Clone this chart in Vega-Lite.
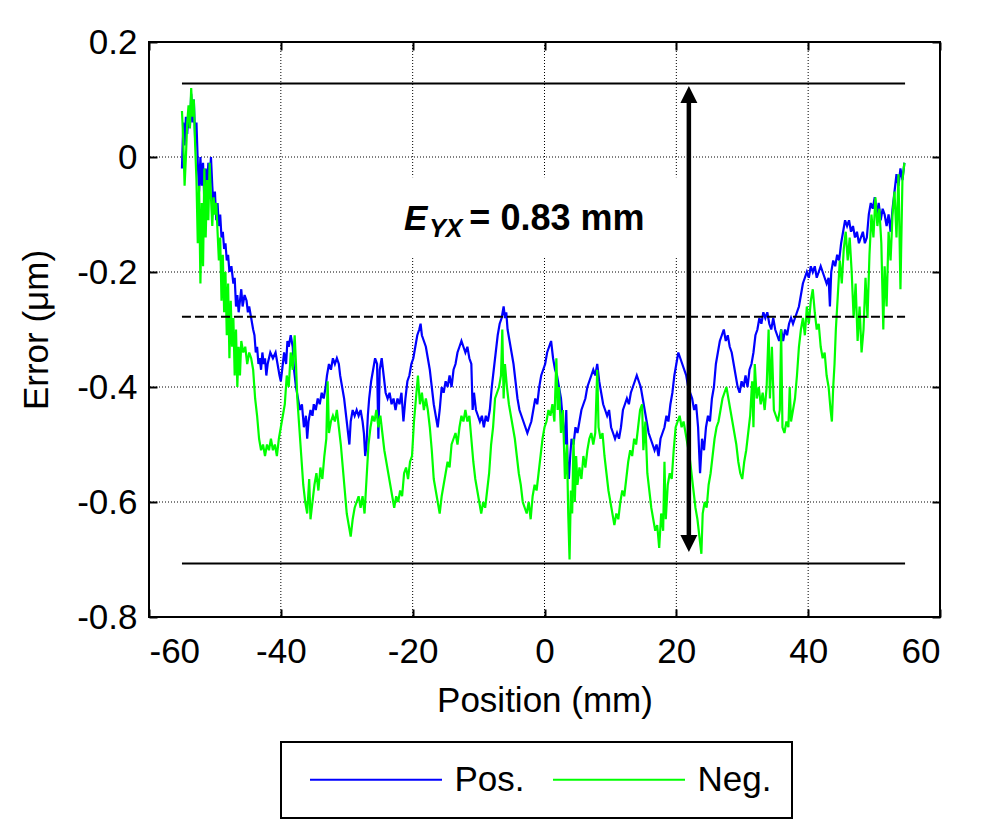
{
"$schema":"https://vega.github.io/schema/vega-lite/v6.json",
"width":791,"height":575,
"autosize":{"type":"none"},
"padding":{"left":149,"top":42,"right":50,"bottom":208},
"background":"white",
"config":{
 "font":"Liberation Sans",
 "view":{"stroke":"black","strokeWidth":2},
 "axis":{"labelFont":"Liberation Sans","labelFontSize":35,"labelColor":"black","titleFont":"Liberation Sans","titleFontSize":35,"titleFontWeight":"normal","titleColor":"black","grid":false,"tickColor":"black","tickWidth":2,"tickSize":-8,"domain":false},
 "legend":{"labelFont":"Liberation Sans","labelFontSize":35,"labelColor":"black","symbolType":"M-5,0H5","symbolSize":697,"symbolStrokeWidth":2,"direction":"horizontal","strokeColor":"black","strokeWidth":2,"padding":20,"columnPadding":19,"symbolOffset":57.5,"labelOffset":61}
},
"datasets":{
 "curves":[
{"p":-55.0,"e":-0.02,"s":"Pos."},{"p":-54.8,"e":0.06,"s":"Pos."},{"p":-54.6,"e":0.02,"s":"Pos."},{"p":-54.4,"e":0.07,"s":"Pos."},{"p":-54.2,"e":0.04,"s":"Pos."},{"p":-54.0,"e":0.08,"s":"Pos."},{"p":-53.8,"e":0.05,"s":"Pos."},{"p":-53.6,"e":0.11,"s":"Pos."},{"p":-53.4,"e":0.06,"s":"Pos."},{"p":-53.2,"e":0.10,"s":"Pos."},{"p":-53.0,"e":0.03,"s":"Pos."},{"p":-52.8,"e":0.06,"s":"Pos."},{"p":-52.6,"e":-0.01,"s":"Pos."},{"p":-52.4,"e":-0.06,"s":"Pos."},{"p":-52.2,"e":0.00,"s":"Pos."},{"p":-52.0,"e":-0.05,"s":"Pos."},{"p":-51.8,"e":-0.01,"s":"Pos."},{"p":-51.6,"e":-0.08,"s":"Pos."},{"p":-51.4,"e":-0.02,"s":"Pos."},{"p":-51.2,"e":-0.06,"s":"Pos."},{"p":-51.0,"e":-0.01,"s":"Pos."},{"p":-50.8,"e":-0.04,"s":"Pos."},{"p":-50.6,"e":0.00,"s":"Pos."},{"p":-50.4,"e":-0.05,"s":"Pos."},{"p":-50.2,"e":-0.09,"s":"Pos."},{"p":-50.0,"e":-0.06,"s":"Pos."},{"p":-49.8,"e":-0.11,"s":"Pos."},{"p":-49.6,"e":-0.08,"s":"Pos."},{"p":-49.4,"e":-0.12,"s":"Pos."},{"p":-49.2,"e":-0.10,"s":"Pos."},{"p":-49.0,"e":-0.14,"s":"Pos."},{"p":-48.8,"e":-0.13,"s":"Pos."},{"p":-48.6,"e":-0.16,"s":"Pos."},{"p":-48.4,"e":-0.15,"s":"Pos."},{"p":-48.2,"e":-0.18,"s":"Pos."},{"p":-48.0,"e":-0.17,"s":"Pos."},{"p":-47.8,"e":-0.20,"s":"Pos."},{"p":-47.5,"e":-0.19,"s":"Pos."},{"p":-47.2,"e":-0.22,"s":"Pos."},{"p":-47.0,"e":-0.21,"s":"Pos."},{"p":-46.8,"e":-0.26,"s":"Pos."},{"p":-46.6,"e":-0.24,"s":"Pos."},{"p":-46.4,"e":-0.27,"s":"Pos."},{"p":-46.2,"e":-0.25,"s":"Pos."},{"p":-46.0,"e":-0.23,"s":"Pos."},{"p":-45.8,"e":-0.26,"s":"Pos."},{"p":-45.5,"e":-0.24,"s":"Pos."},{"p":-45.2,"e":-0.25,"s":"Pos."},{"p":-45.0,"e":-0.27,"s":"Pos."},{"p":-44.8,"e":-0.26,"s":"Pos."},{"p":-44.5,"e":-0.28,"s":"Pos."},{"p":-44.2,"e":-0.30,"s":"Pos."},{"p":-44.0,"e":-0.31,"s":"Pos."},{"p":-43.8,"e":-0.34,"s":"Pos."},{"p":-43.6,"e":-0.33,"s":"Pos."},{"p":-43.4,"e":-0.36,"s":"Pos."},{"p":-43.2,"e":-0.35,"s":"Pos."},{"p":-43.0,"e":-0.37,"s":"Pos."},{"p":-42.8,"e":-0.34,"s":"Pos."},{"p":-42.6,"e":-0.36,"s":"Pos."},{"p":-42.4,"e":-0.35,"s":"Pos."},{"p":-42.2,"e":-0.38,"s":"Pos."},{"p":-42.0,"e":-0.36,"s":"Pos."},{"p":-41.6,"e":-0.34,"s":"Pos."},{"p":-41.2,"e":-0.35,"s":"Pos."},{"p":-40.8,"e":-0.34,"s":"Pos."},{"p":-40.5,"e":-0.36,"s":"Pos."},{"p":-40.2,"e":-0.38,"s":"Pos."},{"p":-40.0,"e":-0.39,"s":"Pos."},{"p":-39.8,"e":-0.37,"s":"Pos."},{"p":-39.5,"e":-0.34,"s":"Pos."},{"p":-39.2,"e":-0.36,"s":"Pos."},{"p":-39.0,"e":-0.32,"s":"Pos."},{"p":-38.8,"e":-0.33,"s":"Pos."},{"p":-38.5,"e":-0.31,"s":"Pos."},{"p":-38.2,"e":-0.33,"s":"Pos."},{"p":-38.0,"e":-0.37,"s":"Pos."},{"p":-37.7,"e":-0.40,"s":"Pos."},{"p":-37.4,"e":-0.42,"s":"Pos."},{"p":-37.1,"e":-0.44,"s":"Pos."},{"p":-36.8,"e":-0.43,"s":"Pos."},{"p":-36.5,"e":-0.47,"s":"Pos."},{"p":-36.2,"e":-0.45,"s":"Pos."},{"p":-36.0,"e":-0.49,"s":"Pos."},{"p":-35.8,"e":-0.46,"s":"Pos."},{"p":-35.5,"e":-0.44,"s":"Pos."},{"p":-35.2,"e":-0.45,"s":"Pos."},{"p":-35.0,"e":-0.43,"s":"Pos."},{"p":-34.7,"e":-0.44,"s":"Pos."},{"p":-34.4,"e":-0.42,"s":"Pos."},{"p":-34.1,"e":-0.43,"s":"Pos."},{"p":-33.8,"e":-0.41,"s":"Pos."},{"p":-33.5,"e":-0.42,"s":"Pos."},{"p":-33.2,"e":-0.40,"s":"Pos."},{"p":-33.0,"e":-0.38,"s":"Pos."},{"p":-32.7,"e":-0.36,"s":"Pos."},{"p":-32.4,"e":-0.37,"s":"Pos."},{"p":-32.1,"e":-0.35,"s":"Pos."},{"p":-31.8,"e":-0.36,"s":"Pos."},{"p":-31.5,"e":-0.35,"s":"Pos."},{"p":-31.2,"e":-0.36,"s":"Pos."},{"p":-31.0,"e":-0.38,"s":"Pos."},{"p":-30.7,"e":-0.40,"s":"Pos."},{"p":-30.4,"e":-0.42,"s":"Pos."},{"p":-30.1,"e":-0.45,"s":"Pos."},{"p":-29.8,"e":-0.48,"s":"Pos."},{"p":-29.6,"e":-0.50,"s":"Pos."},{"p":-29.4,"e":-0.46,"s":"Pos."},{"p":-29.1,"e":-0.44,"s":"Pos."},{"p":-28.8,"e":-0.45,"s":"Pos."},{"p":-28.5,"e":-0.44,"s":"Pos."},{"p":-28.2,"e":-0.45,"s":"Pos."},{"p":-27.9,"e":-0.44,"s":"Pos."},{"p":-27.6,"e":-0.46,"s":"Pos."},{"p":-27.4,"e":-0.48,"s":"Pos."},{"p":-27.2,"e":-0.52,"s":"Pos."},{"p":-27.0,"e":-0.50,"s":"Pos."},{"p":-26.8,"e":-0.45,"s":"Pos."},{"p":-26.6,"e":-0.42,"s":"Pos."},{"p":-26.3,"e":-0.39,"s":"Pos."},{"p":-26.0,"e":-0.37,"s":"Pos."},{"p":-25.7,"e":-0.35,"s":"Pos."},{"p":-25.4,"e":-0.36,"s":"Pos."},{"p":-25.2,"e":-0.49,"s":"Pos."},{"p":-25.0,"e":-0.37,"s":"Pos."},{"p":-24.7,"e":-0.35,"s":"Pos."},{"p":-24.4,"e":-0.38,"s":"Pos."},{"p":-24.1,"e":-0.41,"s":"Pos."},{"p":-23.8,"e":-0.42,"s":"Pos."},{"p":-23.5,"e":-0.41,"s":"Pos."},{"p":-23.2,"e":-0.43,"s":"Pos."},{"p":-22.9,"e":-0.42,"s":"Pos."},{"p":-22.6,"e":-0.44,"s":"Pos."},{"p":-22.3,"e":-0.42,"s":"Pos."},{"p":-22.0,"e":-0.43,"s":"Pos."},{"p":-21.7,"e":-0.41,"s":"Pos."},{"p":-21.4,"e":-0.46,"s":"Pos."},{"p":-21.1,"e":-0.42,"s":"Pos."},{"p":-20.8,"e":-0.39,"s":"Pos."},{"p":-20.5,"e":-0.38,"s":"Pos."},{"p":-20.2,"e":-0.36,"s":"Pos."},{"p":-19.9,"e":-0.35,"s":"Pos."},{"p":-19.6,"e":-0.33,"s":"Pos."},{"p":-19.3,"e":-0.31,"s":"Pos."},{"p":-19.0,"e":-0.30,"s":"Pos."},{"p":-18.8,"e":-0.29,"s":"Pos."},{"p":-18.6,"e":-0.31,"s":"Pos."},{"p":-18.3,"e":-0.32,"s":"Pos."},{"p":-18.0,"e":-0.33,"s":"Pos."},{"p":-17.7,"e":-0.35,"s":"Pos."},{"p":-17.4,"e":-0.37,"s":"Pos."},{"p":-17.1,"e":-0.40,"s":"Pos."},{"p":-16.8,"e":-0.43,"s":"Pos."},{"p":-16.5,"e":-0.45,"s":"Pos."},{"p":-16.2,"e":-0.47,"s":"Pos."},{"p":-15.9,"e":-0.44,"s":"Pos."},{"p":-15.6,"e":-0.40,"s":"Pos."},{"p":-15.3,"e":-0.41,"s":"Pos."},{"p":-15.0,"e":-0.39,"s":"Pos."},{"p":-14.7,"e":-0.40,"s":"Pos."},{"p":-14.4,"e":-0.38,"s":"Pos."},{"p":-14.1,"e":-0.40,"s":"Pos."},{"p":-13.8,"e":-0.37,"s":"Pos."},{"p":-13.5,"e":-0.36,"s":"Pos."},{"p":-13.2,"e":-0.34,"s":"Pos."},{"p":-12.9,"e":-0.33,"s":"Pos."},{"p":-12.6,"e":-0.32,"s":"Pos."},{"p":-12.3,"e":-0.33,"s":"Pos."},{"p":-12.0,"e":-0.34,"s":"Pos."},{"p":-11.7,"e":-0.33,"s":"Pos."},{"p":-11.4,"e":-0.35,"s":"Pos."},{"p":-11.1,"e":-0.36,"s":"Pos."},{"p":-10.9,"e":-0.44,"s":"Pos."},{"p":-10.7,"e":-0.41,"s":"Pos."},{"p":-10.4,"e":-0.44,"s":"Pos."},{"p":-10.1,"e":-0.45,"s":"Pos."},{"p":-9.8,"e":-0.46,"s":"Pos."},{"p":-9.5,"e":-0.45,"s":"Pos."},{"p":-9.2,"e":-0.47,"s":"Pos."},{"p":-8.9,"e":-0.45,"s":"Pos."},{"p":-8.6,"e":-0.46,"s":"Pos."},{"p":-8.3,"e":-0.44,"s":"Pos."},{"p":-8.0,"e":-0.40,"s":"Pos."},{"p":-7.7,"e":-0.37,"s":"Pos."},{"p":-7.4,"e":-0.34,"s":"Pos."},{"p":-7.1,"e":-0.31,"s":"Pos."},{"p":-6.8,"e":-0.29,"s":"Pos."},{"p":-6.5,"e":-0.28,"s":"Pos."},{"p":-6.2,"e":-0.26,"s":"Pos."},{"p":-6.0,"e":-0.28,"s":"Pos."},{"p":-5.8,"e":-0.27,"s":"Pos."},{"p":-5.6,"e":-0.30,"s":"Pos."},{"p":-5.3,"e":-0.32,"s":"Pos."},{"p":-5.0,"e":-0.34,"s":"Pos."},{"p":-4.7,"e":-0.36,"s":"Pos."},{"p":-4.4,"e":-0.39,"s":"Pos."},{"p":-4.1,"e":-0.42,"s":"Pos."},{"p":-3.8,"e":-0.44,"s":"Pos."},{"p":-3.5,"e":-0.45,"s":"Pos."},{"p":-3.2,"e":-0.46,"s":"Pos."},{"p":-2.9,"e":-0.47,"s":"Pos."},{"p":-2.6,"e":-0.48,"s":"Pos."},{"p":-2.3,"e":-0.47,"s":"Pos."},{"p":-2.0,"e":-0.46,"s":"Pos."},{"p":-1.7,"e":-0.44,"s":"Pos."},{"p":-1.4,"e":-0.42,"s":"Pos."},{"p":-1.1,"e":-0.43,"s":"Pos."},{"p":-0.8,"e":-0.40,"s":"Pos."},{"p":-0.5,"e":-0.38,"s":"Pos."},{"p":-0.2,"e":-0.37,"s":"Pos."},{"p":0.1,"e":-0.36,"s":"Pos."},{"p":0.4,"e":-0.34,"s":"Pos."},{"p":0.7,"e":-0.33,"s":"Pos."},{"p":1.0,"e":-0.32,"s":"Pos."},{"p":1.3,"e":-0.35,"s":"Pos."},{"p":1.6,"e":-0.37,"s":"Pos."},{"p":1.9,"e":-0.38,"s":"Pos."},{"p":2.2,"e":-0.40,"s":"Pos."},{"p":2.5,"e":-0.42,"s":"Pos."},{"p":2.8,"e":-0.46,"s":"Pos."},{"p":3.1,"e":-0.50,"s":"Pos."},{"p":3.3,"e":-0.44,"s":"Pos."},{"p":3.5,"e":-0.53,"s":"Pos."},{"p":3.7,"e":-0.56,"s":"Pos."},{"p":3.9,"e":-0.52,"s":"Pos."},{"p":4.1,"e":-0.49,"s":"Pos."},{"p":4.4,"e":-0.50,"s":"Pos."},{"p":4.7,"e":-0.47,"s":"Pos."},{"p":5.0,"e":-0.48,"s":"Pos."},{"p":5.3,"e":-0.46,"s":"Pos."},{"p":5.6,"e":-0.44,"s":"Pos."},{"p":5.9,"e":-0.43,"s":"Pos."},{"p":6.2,"e":-0.42,"s":"Pos."},{"p":6.5,"e":-0.40,"s":"Pos."},{"p":6.8,"e":-0.39,"s":"Pos."},{"p":7.1,"e":-0.38,"s":"Pos."},{"p":7.4,"e":-0.37,"s":"Pos."},{"p":7.7,"e":-0.38,"s":"Pos."},{"p":8.0,"e":-0.36,"s":"Pos."},{"p":8.3,"e":-0.39,"s":"Pos."},{"p":8.6,"e":-0.41,"s":"Pos."},{"p":8.9,"e":-0.43,"s":"Pos."},{"p":9.2,"e":-0.44,"s":"Pos."},{"p":9.5,"e":-0.45,"s":"Pos."},{"p":9.8,"e":-0.44,"s":"Pos."},{"p":10.1,"e":-0.47,"s":"Pos."},{"p":10.4,"e":-0.48,"s":"Pos."},{"p":10.7,"e":-0.49,"s":"Pos."},{"p":11.0,"e":-0.48,"s":"Pos."},{"p":11.3,"e":-0.49,"s":"Pos."},{"p":11.6,"e":-0.47,"s":"Pos."},{"p":11.9,"e":-0.44,"s":"Pos."},{"p":12.2,"e":-0.43,"s":"Pos."},{"p":12.5,"e":-0.42,"s":"Pos."},{"p":12.8,"e":-0.43,"s":"Pos."},{"p":13.1,"e":-0.41,"s":"Pos."},{"p":13.4,"e":-0.40,"s":"Pos."},{"p":13.7,"e":-0.39,"s":"Pos."},{"p":14.0,"e":-0.38,"s":"Pos."},{"p":14.3,"e":-0.39,"s":"Pos."},{"p":14.6,"e":-0.40,"s":"Pos."},{"p":14.9,"e":-0.42,"s":"Pos."},{"p":15.2,"e":-0.44,"s":"Pos."},{"p":15.5,"e":-0.46,"s":"Pos."},{"p":15.8,"e":-0.48,"s":"Pos."},{"p":16.1,"e":-0.49,"s":"Pos."},{"p":16.4,"e":-0.50,"s":"Pos."},{"p":16.7,"e":-0.51,"s":"Pos."},{"p":17.0,"e":-0.50,"s":"Pos."},{"p":17.3,"e":-0.52,"s":"Pos."},{"p":17.6,"e":-0.49,"s":"Pos."},{"p":17.9,"e":-0.48,"s":"Pos."},{"p":18.2,"e":-0.47,"s":"Pos."},{"p":18.5,"e":-0.45,"s":"Pos."},{"p":18.8,"e":-0.46,"s":"Pos."},{"p":19.1,"e":-0.43,"s":"Pos."},{"p":19.4,"e":-0.41,"s":"Pos."},{"p":19.7,"e":-0.38,"s":"Pos."},{"p":20.0,"e":-0.36,"s":"Pos."},{"p":20.3,"e":-0.34,"s":"Pos."},{"p":20.6,"e":-0.35,"s":"Pos."},{"p":20.9,"e":-0.36,"s":"Pos."},{"p":21.2,"e":-0.37,"s":"Pos."},{"p":21.5,"e":-0.38,"s":"Pos."},{"p":21.8,"e":-0.40,"s":"Pos."},{"p":22.1,"e":-0.41,"s":"Pos."},{"p":22.4,"e":-0.42,"s":"Pos."},{"p":22.7,"e":-0.44,"s":"Pos."},{"p":23.0,"e":-0.43,"s":"Pos."},{"p":23.3,"e":-0.47,"s":"Pos."},{"p":23.6,"e":-0.55,"s":"Pos."},{"p":23.9,"e":-0.49,"s":"Pos."},{"p":24.2,"e":-0.51,"s":"Pos."},{"p":24.5,"e":-0.47,"s":"Pos."},{"p":24.8,"e":-0.45,"s":"Pos."},{"p":25.1,"e":-0.46,"s":"Pos."},{"p":25.4,"e":-0.42,"s":"Pos."},{"p":25.7,"e":-0.40,"s":"Pos."},{"p":26.0,"e":-0.36,"s":"Pos."},{"p":26.3,"e":-0.34,"s":"Pos."},{"p":26.6,"e":-0.32,"s":"Pos."},{"p":26.9,"e":-0.31,"s":"Pos."},{"p":27.2,"e":-0.30,"s":"Pos."},{"p":27.5,"e":-0.32,"s":"Pos."},{"p":27.8,"e":-0.31,"s":"Pos."},{"p":28.1,"e":-0.33,"s":"Pos."},{"p":28.4,"e":-0.34,"s":"Pos."},{"p":28.7,"e":-0.36,"s":"Pos."},{"p":29.0,"e":-0.38,"s":"Pos."},{"p":29.3,"e":-0.40,"s":"Pos."},{"p":29.6,"e":-0.41,"s":"Pos."},{"p":29.9,"e":-0.39,"s":"Pos."},{"p":30.2,"e":-0.40,"s":"Pos."},{"p":30.5,"e":-0.38,"s":"Pos."},{"p":30.8,"e":-0.40,"s":"Pos."},{"p":31.1,"e":-0.37,"s":"Pos."},{"p":31.4,"e":-0.36,"s":"Pos."},{"p":31.7,"e":-0.34,"s":"Pos."},{"p":32.0,"e":-0.31,"s":"Pos."},{"p":32.3,"e":-0.30,"s":"Pos."},{"p":32.6,"e":-0.28,"s":"Pos."},{"p":32.9,"e":-0.29,"s":"Pos."},{"p":33.2,"e":-0.27,"s":"Pos."},{"p":33.5,"e":-0.28,"s":"Pos."},{"p":33.8,"e":-0.27,"s":"Pos."},{"p":34.1,"e":-0.29,"s":"Pos."},{"p":34.4,"e":-0.30,"s":"Pos."},{"p":34.7,"e":-0.28,"s":"Pos."},{"p":35.0,"e":-0.30,"s":"Pos."},{"p":35.3,"e":-0.31,"s":"Pos."},{"p":35.6,"e":-0.32,"s":"Pos."},{"p":35.9,"e":-0.30,"s":"Pos."},{"p":36.2,"e":-0.32,"s":"Pos."},{"p":36.5,"e":-0.30,"s":"Pos."},{"p":36.8,"e":-0.31,"s":"Pos."},{"p":37.1,"e":-0.29,"s":"Pos."},{"p":37.4,"e":-0.28,"s":"Pos."},{"p":37.7,"e":-0.29,"s":"Pos."},{"p":38.0,"e":-0.28,"s":"Pos."},{"p":38.3,"e":-0.27,"s":"Pos."},{"p":38.6,"e":-0.26,"s":"Pos."},{"p":38.9,"e":-0.24,"s":"Pos."},{"p":39.2,"e":-0.22,"s":"Pos."},{"p":39.5,"e":-0.21,"s":"Pos."},{"p":39.8,"e":-0.20,"s":"Pos."},{"p":40.1,"e":-0.21,"s":"Pos."},{"p":40.4,"e":-0.19,"s":"Pos."},{"p":40.7,"e":-0.20,"s":"Pos."},{"p":41.0,"e":-0.19,"s":"Pos."},{"p":41.3,"e":-0.21,"s":"Pos."},{"p":41.6,"e":-0.20,"s":"Pos."},{"p":41.9,"e":-0.19,"s":"Pos."},{"p":42.2,"e":-0.20,"s":"Pos."},{"p":42.5,"e":-0.21,"s":"Pos."},{"p":42.8,"e":-0.22,"s":"Pos."},{"p":43.1,"e":-0.21,"s":"Pos."},{"p":43.3,"e":-0.26,"s":"Pos."},{"p":43.5,"e":-0.20,"s":"Pos."},{"p":43.8,"e":-0.18,"s":"Pos."},{"p":44.1,"e":-0.19,"s":"Pos."},{"p":44.4,"e":-0.17,"s":"Pos."},{"p":44.7,"e":-0.18,"s":"Pos."},{"p":45.0,"e":-0.15,"s":"Pos."},{"p":45.3,"e":-0.13,"s":"Pos."},{"p":45.6,"e":-0.11,"s":"Pos."},{"p":45.9,"e":-0.12,"s":"Pos."},{"p":46.2,"e":-0.11,"s":"Pos."},{"p":46.5,"e":-0.13,"s":"Pos."},{"p":46.8,"e":-0.12,"s":"Pos."},{"p":47.1,"e":-0.14,"s":"Pos."},{"p":47.4,"e":-0.13,"s":"Pos."},{"p":47.7,"e":-0.15,"s":"Pos."},{"p":48.0,"e":-0.14,"s":"Pos."},{"p":48.3,"e":-0.13,"s":"Pos."},{"p":48.6,"e":-0.15,"s":"Pos."},{"p":48.9,"e":-0.14,"s":"Pos."},{"p":49.2,"e":-0.10,"s":"Pos."},{"p":49.5,"e":-0.08,"s":"Pos."},{"p":49.8,"e":-0.09,"s":"Pos."},{"p":50.1,"e":-0.07,"s":"Pos."},{"p":50.4,"e":-0.10,"s":"Pos."},{"p":50.7,"e":-0.08,"s":"Pos."},{"p":51.0,"e":-0.11,"s":"Pos."},{"p":51.3,"e":-0.09,"s":"Pos."},{"p":51.6,"e":-0.10,"s":"Pos."},{"p":51.9,"e":-0.12,"s":"Pos."},{"p":52.2,"e":-0.10,"s":"Pos."},{"p":52.5,"e":-0.13,"s":"Pos."},{"p":52.8,"e":-0.09,"s":"Pos."},{"p":53.1,"e":-0.06,"s":"Pos."},{"p":53.4,"e":-0.03,"s":"Pos."},{"p":53.7,"e":-0.05,"s":"Pos."},{"p":54.0,"e":-0.02,"s":"Pos."},{"p":54.3,"e":-0.04,"s":"Pos."},{"p":54.6,"e":-0.01,"s":"Pos."},
{"p":-55.0,"e":0.08,"s":"Neg."},{"p":-54.8,"e":0.03,"s":"Neg."},{"p":-54.6,"e":-0.05,"s":"Neg."},{"p":-54.4,"e":0.00,"s":"Neg."},{"p":-54.2,"e":0.06,"s":"Neg."},{"p":-54.0,"e":0.09,"s":"Neg."},{"p":-53.8,"e":0.05,"s":"Neg."},{"p":-53.6,"e":0.12,"s":"Neg."},{"p":-53.4,"e":0.07,"s":"Neg."},{"p":-53.2,"e":0.10,"s":"Neg."},{"p":-53.0,"e":0.02,"s":"Neg."},{"p":-52.8,"e":-0.04,"s":"Neg."},{"p":-52.6,"e":-0.15,"s":"Neg."},{"p":-52.4,"e":-0.05,"s":"Neg."},{"p":-52.2,"e":-0.22,"s":"Neg."},{"p":-52.0,"e":-0.08,"s":"Neg."},{"p":-51.8,"e":-0.19,"s":"Neg."},{"p":-51.6,"e":-0.02,"s":"Neg."},{"p":-51.4,"e":-0.14,"s":"Neg."},{"p":-51.2,"e":-0.04,"s":"Neg."},{"p":-51.0,"e":-0.11,"s":"Neg."},{"p":-50.8,"e":-0.01,"s":"Neg."},{"p":-50.6,"e":-0.07,"s":"Neg."},{"p":-50.4,"e":-0.12,"s":"Neg."},{"p":-50.2,"e":-0.07,"s":"Neg."},{"p":-50.0,"e":-0.10,"s":"Neg."},{"p":-49.8,"e":-0.08,"s":"Neg."},{"p":-49.6,"e":-0.13,"s":"Neg."},{"p":-49.4,"e":-0.18,"s":"Neg."},{"p":-49.2,"e":-0.14,"s":"Neg."},{"p":-49.0,"e":-0.25,"s":"Neg."},{"p":-48.8,"e":-0.17,"s":"Neg."},{"p":-48.6,"e":-0.27,"s":"Neg."},{"p":-48.4,"e":-0.20,"s":"Neg."},{"p":-48.2,"e":-0.31,"s":"Neg."},{"p":-48.0,"e":-0.22,"s":"Neg."},{"p":-47.8,"e":-0.35,"s":"Neg."},{"p":-47.6,"e":-0.25,"s":"Neg."},{"p":-47.4,"e":-0.33,"s":"Neg."},{"p":-47.2,"e":-0.28,"s":"Neg."},{"p":-47.0,"e":-0.38,"s":"Neg."},{"p":-46.8,"e":-0.30,"s":"Neg."},{"p":-46.6,"e":-0.40,"s":"Neg."},{"p":-46.4,"e":-0.33,"s":"Neg."},{"p":-46.2,"e":-0.38,"s":"Neg."},{"p":-46.0,"e":-0.32,"s":"Neg."},{"p":-45.7,"e":-0.34,"s":"Neg."},{"p":-45.4,"e":-0.33,"s":"Neg."},{"p":-45.1,"e":-0.36,"s":"Neg."},{"p":-44.8,"e":-0.34,"s":"Neg."},{"p":-44.5,"e":-0.35,"s":"Neg."},{"p":-44.2,"e":-0.37,"s":"Neg."},{"p":-43.9,"e":-0.42,"s":"Neg."},{"p":-43.6,"e":-0.45,"s":"Neg."},{"p":-43.3,"e":-0.49,"s":"Neg."},{"p":-43.0,"e":-0.51,"s":"Neg."},{"p":-42.7,"e":-0.50,"s":"Neg."},{"p":-42.4,"e":-0.52,"s":"Neg."},{"p":-42.1,"e":-0.50,"s":"Neg."},{"p":-41.8,"e":-0.51,"s":"Neg."},{"p":-41.5,"e":-0.49,"s":"Neg."},{"p":-41.2,"e":-0.51,"s":"Neg."},{"p":-40.9,"e":-0.50,"s":"Neg."},{"p":-40.6,"e":-0.52,"s":"Neg."},{"p":-40.3,"e":-0.49,"s":"Neg."},{"p":-40.0,"e":-0.47,"s":"Neg."},{"p":-39.7,"e":-0.45,"s":"Neg."},{"p":-39.4,"e":-0.43,"s":"Neg."},{"p":-39.1,"e":-0.38,"s":"Neg."},{"p":-38.8,"e":-0.40,"s":"Neg."},{"p":-38.5,"e":-0.34,"s":"Neg."},{"p":-38.2,"e":-0.37,"s":"Neg."},{"p":-37.9,"e":-0.31,"s":"Neg."},{"p":-37.7,"e":-0.36,"s":"Neg."},{"p":-37.5,"e":-0.42,"s":"Neg."},{"p":-37.2,"e":-0.47,"s":"Neg."},{"p":-36.9,"e":-0.52,"s":"Neg."},{"p":-36.6,"e":-0.57,"s":"Neg."},{"p":-36.3,"e":-0.60,"s":"Neg."},{"p":-36.0,"e":-0.62,"s":"Neg."},{"p":-35.7,"e":-0.56,"s":"Neg."},{"p":-35.5,"e":-0.63,"s":"Neg."},{"p":-35.2,"e":-0.60,"s":"Neg."},{"p":-34.9,"e":-0.57,"s":"Neg."},{"p":-34.6,"e":-0.55,"s":"Neg."},{"p":-34.3,"e":-0.58,"s":"Neg."},{"p":-34.0,"e":-0.54,"s":"Neg."},{"p":-33.7,"e":-0.56,"s":"Neg."},{"p":-33.4,"e":-0.52,"s":"Neg."},{"p":-33.1,"e":-0.49,"s":"Neg."},{"p":-32.9,"e":-0.39,"s":"Neg."},{"p":-32.7,"e":-0.48,"s":"Neg."},{"p":-32.4,"e":-0.46,"s":"Neg."},{"p":-32.1,"e":-0.45,"s":"Neg."},{"p":-31.8,"e":-0.46,"s":"Neg."},{"p":-31.5,"e":-0.44,"s":"Neg."},{"p":-31.2,"e":-0.47,"s":"Neg."},{"p":-30.9,"e":-0.50,"s":"Neg."},{"p":-30.6,"e":-0.54,"s":"Neg."},{"p":-30.3,"e":-0.58,"s":"Neg."},{"p":-30.0,"e":-0.62,"s":"Neg."},{"p":-29.7,"e":-0.64,"s":"Neg."},{"p":-29.4,"e":-0.66,"s":"Neg."},{"p":-29.1,"e":-0.63,"s":"Neg."},{"p":-28.8,"e":-0.61,"s":"Neg."},{"p":-28.5,"e":-0.60,"s":"Neg."},{"p":-28.2,"e":-0.59,"s":"Neg."},{"p":-27.9,"e":-0.61,"s":"Neg."},{"p":-27.6,"e":-0.59,"s":"Neg."},{"p":-27.3,"e":-0.62,"s":"Neg."},{"p":-27.0,"e":-0.56,"s":"Neg."},{"p":-26.7,"e":-0.50,"s":"Neg."},{"p":-26.4,"e":-0.47,"s":"Neg."},{"p":-26.1,"e":-0.45,"s":"Neg."},{"p":-25.8,"e":-0.46,"s":"Neg."},{"p":-25.5,"e":-0.44,"s":"Neg."},{"p":-25.2,"e":-0.47,"s":"Neg."},{"p":-24.9,"e":-0.45,"s":"Neg."},{"p":-24.6,"e":-0.48,"s":"Neg."},{"p":-24.3,"e":-0.51,"s":"Neg."},{"p":-24.0,"e":-0.53,"s":"Neg."},{"p":-23.7,"e":-0.55,"s":"Neg."},{"p":-23.4,"e":-0.57,"s":"Neg."},{"p":-23.1,"e":-0.59,"s":"Neg."},{"p":-22.8,"e":-0.61,"s":"Neg."},{"p":-22.5,"e":-0.59,"s":"Neg."},{"p":-22.2,"e":-0.60,"s":"Neg."},{"p":-21.9,"e":-0.58,"s":"Neg."},{"p":-21.6,"e":-0.59,"s":"Neg."},{"p":-21.3,"e":-0.55,"s":"Neg."},{"p":-21.0,"e":-0.54,"s":"Neg."},{"p":-20.7,"e":-0.56,"s":"Neg."},{"p":-20.4,"e":-0.53,"s":"Neg."},{"p":-20.1,"e":-0.52,"s":"Neg."},{"p":-19.8,"e":-0.46,"s":"Neg."},{"p":-19.5,"e":-0.42,"s":"Neg."},{"p":-19.2,"e":-0.38,"s":"Neg."},{"p":-18.9,"e":-0.43,"s":"Neg."},{"p":-18.6,"e":-0.41,"s":"Neg."},{"p":-18.3,"e":-0.44,"s":"Neg."},{"p":-18.0,"e":-0.42,"s":"Neg."},{"p":-17.7,"e":-0.44,"s":"Neg."},{"p":-17.4,"e":-0.47,"s":"Neg."},{"p":-17.1,"e":-0.51,"s":"Neg."},{"p":-16.8,"e":-0.56,"s":"Neg."},{"p":-16.5,"e":-0.58,"s":"Neg."},{"p":-16.2,"e":-0.60,"s":"Neg."},{"p":-15.9,"e":-0.62,"s":"Neg."},{"p":-15.6,"e":-0.59,"s":"Neg."},{"p":-15.3,"e":-0.57,"s":"Neg."},{"p":-15.0,"e":-0.55,"s":"Neg."},{"p":-14.7,"e":-0.53,"s":"Neg."},{"p":-14.4,"e":-0.54,"s":"Neg."},{"p":-14.1,"e":-0.50,"s":"Neg."},{"p":-13.8,"e":-0.49,"s":"Neg."},{"p":-13.5,"e":-0.48,"s":"Neg."},{"p":-13.2,"e":-0.50,"s":"Neg."},{"p":-12.9,"e":-0.47,"s":"Neg."},{"p":-12.6,"e":-0.45,"s":"Neg."},{"p":-12.3,"e":-0.46,"s":"Neg."},{"p":-12.0,"e":-0.44,"s":"Neg."},{"p":-11.7,"e":-0.46,"s":"Neg."},{"p":-11.4,"e":-0.45,"s":"Neg."},{"p":-11.1,"e":-0.49,"s":"Neg."},{"p":-10.8,"e":-0.53,"s":"Neg."},{"p":-10.5,"e":-0.56,"s":"Neg."},{"p":-10.2,"e":-0.58,"s":"Neg."},{"p":-9.9,"e":-0.60,"s":"Neg."},{"p":-9.6,"e":-0.62,"s":"Neg."},{"p":-9.3,"e":-0.60,"s":"Neg."},{"p":-9.0,"e":-0.61,"s":"Neg."},{"p":-8.7,"e":-0.58,"s":"Neg."},{"p":-8.4,"e":-0.55,"s":"Neg."},{"p":-8.1,"e":-0.50,"s":"Neg."},{"p":-7.8,"e":-0.47,"s":"Neg."},{"p":-7.5,"e":-0.42,"s":"Neg."},{"p":-7.2,"e":-0.41,"s":"Neg."},{"p":-6.9,"e":-0.40,"s":"Neg."},{"p":-6.6,"e":-0.38,"s":"Neg."},{"p":-6.4,"e":-0.30,"s":"Neg."},{"p":-6.2,"e":-0.42,"s":"Neg."},{"p":-6.0,"e":-0.36,"s":"Neg."},{"p":-5.7,"e":-0.40,"s":"Neg."},{"p":-5.4,"e":-0.43,"s":"Neg."},{"p":-5.1,"e":-0.45,"s":"Neg."},{"p":-4.8,"e":-0.47,"s":"Neg."},{"p":-4.5,"e":-0.49,"s":"Neg."},{"p":-4.2,"e":-0.52,"s":"Neg."},{"p":-3.9,"e":-0.55,"s":"Neg."},{"p":-3.6,"e":-0.57,"s":"Neg."},{"p":-3.3,"e":-0.60,"s":"Neg."},{"p":-3.0,"e":-0.61,"s":"Neg."},{"p":-2.7,"e":-0.62,"s":"Neg."},{"p":-2.4,"e":-0.60,"s":"Neg."},{"p":-2.1,"e":-0.63,"s":"Neg."},{"p":-1.8,"e":-0.59,"s":"Neg."},{"p":-1.5,"e":-0.57,"s":"Neg."},{"p":-1.2,"e":-0.58,"s":"Neg."},{"p":-0.9,"e":-0.55,"s":"Neg."},{"p":-0.6,"e":-0.52,"s":"Neg."},{"p":-0.3,"e":-0.49,"s":"Neg."},{"p":0.0,"e":-0.47,"s":"Neg."},{"p":0.3,"e":-0.46,"s":"Neg."},{"p":0.6,"e":-0.44,"s":"Neg."},{"p":0.9,"e":-0.45,"s":"Neg."},{"p":1.2,"e":-0.43,"s":"Neg."},{"p":1.5,"e":-0.46,"s":"Neg."},{"p":1.8,"e":-0.35,"s":"Neg."},{"p":2.0,"e":-0.44,"s":"Neg."},{"p":2.2,"e":-0.40,"s":"Neg."},{"p":2.5,"e":-0.48,"s":"Neg."},{"p":2.8,"e":-0.44,"s":"Neg."},{"p":3.1,"e":-0.56,"s":"Neg."},{"p":3.4,"e":-0.50,"s":"Neg."},{"p":3.6,"e":-0.62,"s":"Neg."},{"p":3.8,"e":-0.70,"s":"Neg."},{"p":4.0,"e":-0.58,"s":"Neg."},{"p":4.2,"e":-0.62,"s":"Neg."},{"p":4.4,"e":-0.49,"s":"Neg."},{"p":4.6,"e":-0.60,"s":"Neg."},{"p":4.8,"e":-0.52,"s":"Neg."},{"p":5.0,"e":-0.57,"s":"Neg."},{"p":5.3,"e":-0.54,"s":"Neg."},{"p":5.6,"e":-0.56,"s":"Neg."},{"p":5.9,"e":-0.52,"s":"Neg."},{"p":6.2,"e":-0.54,"s":"Neg."},{"p":6.5,"e":-0.51,"s":"Neg."},{"p":6.8,"e":-0.49,"s":"Neg."},{"p":7.1,"e":-0.48,"s":"Neg."},{"p":7.4,"e":-0.50,"s":"Neg."},{"p":7.7,"e":-0.48,"s":"Neg."},{"p":8.0,"e":-0.37,"s":"Neg."},{"p":8.2,"e":-0.47,"s":"Neg."},{"p":8.5,"e":-0.49,"s":"Neg."},{"p":8.8,"e":-0.48,"s":"Neg."},{"p":9.1,"e":-0.52,"s":"Neg."},{"p":9.4,"e":-0.55,"s":"Neg."},{"p":9.7,"e":-0.58,"s":"Neg."},{"p":10.0,"e":-0.60,"s":"Neg."},{"p":10.3,"e":-0.62,"s":"Neg."},{"p":10.6,"e":-0.64,"s":"Neg."},{"p":10.9,"e":-0.62,"s":"Neg."},{"p":11.2,"e":-0.63,"s":"Neg."},{"p":11.5,"e":-0.60,"s":"Neg."},{"p":11.8,"e":-0.58,"s":"Neg."},{"p":12.1,"e":-0.59,"s":"Neg."},{"p":12.4,"e":-0.56,"s":"Neg."},{"p":12.7,"e":-0.53,"s":"Neg."},{"p":13.0,"e":-0.51,"s":"Neg."},{"p":13.3,"e":-0.52,"s":"Neg."},{"p":13.6,"e":-0.49,"s":"Neg."},{"p":13.9,"e":-0.50,"s":"Neg."},{"p":14.2,"e":-0.47,"s":"Neg."},{"p":14.5,"e":-0.44,"s":"Neg."},{"p":14.8,"e":-0.43,"s":"Neg."},{"p":15.0,"e":-0.51,"s":"Neg."},{"p":15.3,"e":-0.46,"s":"Neg."},{"p":15.6,"e":-0.55,"s":"Neg."},{"p":15.9,"e":-0.58,"s":"Neg."},{"p":16.2,"e":-0.61,"s":"Neg."},{"p":16.5,"e":-0.63,"s":"Neg."},{"p":16.8,"e":-0.65,"s":"Neg."},{"p":17.1,"e":-0.64,"s":"Neg."},{"p":17.4,"e":-0.68,"s":"Neg."},{"p":17.7,"e":-0.62,"s":"Neg."},{"p":18.0,"e":-0.65,"s":"Neg."},{"p":18.2,"e":-0.53,"s":"Neg."},{"p":18.4,"e":-0.63,"s":"Neg."},{"p":18.7,"e":-0.57,"s":"Neg."},{"p":19.0,"e":-0.55,"s":"Neg."},{"p":19.3,"e":-0.56,"s":"Neg."},{"p":19.6,"e":-0.51,"s":"Neg."},{"p":19.9,"e":-0.47,"s":"Neg."},{"p":20.2,"e":-0.46,"s":"Neg."},{"p":20.5,"e":-0.45,"s":"Neg."},{"p":20.8,"e":-0.47,"s":"Neg."},{"p":21.1,"e":-0.46,"s":"Neg."},{"p":21.4,"e":-0.48,"s":"Neg."},{"p":21.7,"e":-0.50,"s":"Neg."},{"p":22.0,"e":-0.52,"s":"Neg."},{"p":22.3,"e":-0.55,"s":"Neg."},{"p":22.6,"e":-0.58,"s":"Neg."},{"p":22.9,"e":-0.61,"s":"Neg."},{"p":23.2,"e":-0.63,"s":"Neg."},{"p":23.5,"e":-0.66,"s":"Neg."},{"p":23.8,"e":-0.69,"s":"Neg."},{"p":24.0,"e":-0.62,"s":"Neg."},{"p":24.3,"e":-0.60,"s":"Neg."},{"p":24.6,"e":-0.61,"s":"Neg."},{"p":24.9,"e":-0.57,"s":"Neg."},{"p":25.2,"e":-0.55,"s":"Neg."},{"p":25.5,"e":-0.52,"s":"Neg."},{"p":25.8,"e":-0.49,"s":"Neg."},{"p":26.1,"e":-0.47,"s":"Neg."},{"p":26.4,"e":-0.46,"s":"Neg."},{"p":26.7,"e":-0.44,"s":"Neg."},{"p":27.0,"e":-0.42,"s":"Neg."},{"p":27.3,"e":-0.41,"s":"Neg."},{"p":27.6,"e":-0.40,"s":"Neg."},{"p":27.9,"e":-0.42,"s":"Neg."},{"p":28.2,"e":-0.44,"s":"Neg."},{"p":28.5,"e":-0.46,"s":"Neg."},{"p":28.8,"e":-0.48,"s":"Neg."},{"p":29.1,"e":-0.50,"s":"Neg."},{"p":29.4,"e":-0.53,"s":"Neg."},{"p":29.7,"e":-0.55,"s":"Neg."},{"p":30.0,"e":-0.56,"s":"Neg."},{"p":30.3,"e":-0.53,"s":"Neg."},{"p":30.6,"e":-0.51,"s":"Neg."},{"p":30.9,"e":-0.48,"s":"Neg."},{"p":31.2,"e":-0.45,"s":"Neg."},{"p":31.5,"e":-0.39,"s":"Neg."},{"p":31.7,"e":-0.47,"s":"Neg."},{"p":31.9,"e":-0.36,"s":"Neg."},{"p":32.2,"e":-0.42,"s":"Neg."},{"p":32.5,"e":-0.40,"s":"Neg."},{"p":32.8,"e":-0.43,"s":"Neg."},{"p":33.1,"e":-0.41,"s":"Neg."},{"p":33.4,"e":-0.44,"s":"Neg."},{"p":33.7,"e":-0.40,"s":"Neg."},{"p":34.0,"e":-0.30,"s":"Neg."},{"p":34.2,"e":-0.42,"s":"Neg."},{"p":34.5,"e":-0.33,"s":"Neg."},{"p":34.8,"e":-0.44,"s":"Neg."},{"p":35.1,"e":-0.45,"s":"Neg."},{"p":35.4,"e":-0.46,"s":"Neg."},{"p":35.7,"e":-0.44,"s":"Neg."},{"p":35.9,"e":-0.30,"s":"Neg."},{"p":36.1,"e":-0.47,"s":"Neg."},{"p":36.4,"e":-0.48,"s":"Neg."},{"p":36.7,"e":-0.46,"s":"Neg."},{"p":37.0,"e":-0.47,"s":"Neg."},{"p":37.2,"e":-0.40,"s":"Neg."},{"p":37.4,"e":-0.46,"s":"Neg."},{"p":37.7,"e":-0.44,"s":"Neg."},{"p":38.0,"e":-0.42,"s":"Neg."},{"p":38.3,"e":-0.38,"s":"Neg."},{"p":38.6,"e":-0.33,"s":"Neg."},{"p":38.9,"e":-0.30,"s":"Neg."},{"p":39.2,"e":-0.28,"s":"Neg."},{"p":39.5,"e":-0.31,"s":"Neg."},{"p":39.8,"e":-0.26,"s":"Neg."},{"p":40.1,"e":-0.29,"s":"Neg."},{"p":40.4,"e":-0.25,"s":"Neg."},{"p":40.7,"e":-0.23,"s":"Neg."},{"p":41.0,"e":-0.27,"s":"Neg."},{"p":41.3,"e":-0.30,"s":"Neg."},{"p":41.6,"e":-0.29,"s":"Neg."},{"p":41.9,"e":-0.33,"s":"Neg."},{"p":42.2,"e":-0.35,"s":"Neg."},{"p":42.5,"e":-0.34,"s":"Neg."},{"p":42.8,"e":-0.38,"s":"Neg."},{"p":43.1,"e":-0.40,"s":"Neg."},{"p":43.4,"e":-0.44,"s":"Neg."},{"p":43.6,"e":-0.46,"s":"Neg."},{"p":43.8,"e":-0.40,"s":"Neg."},{"p":44.0,"e":-0.36,"s":"Neg."},{"p":44.2,"e":-0.30,"s":"Neg."},{"p":44.5,"e":-0.24,"s":"Neg."},{"p":44.8,"e":-0.18,"s":"Neg."},{"p":45.1,"e":-0.22,"s":"Neg."},{"p":45.4,"e":-0.16,"s":"Neg."},{"p":45.7,"e":-0.13,"s":"Neg."},{"p":46.0,"e":-0.18,"s":"Neg."},{"p":46.3,"e":-0.14,"s":"Neg."},{"p":46.6,"e":-0.20,"s":"Neg."},{"p":46.9,"e":-0.28,"s":"Neg."},{"p":47.2,"e":-0.22,"s":"Neg."},{"p":47.5,"e":-0.32,"s":"Neg."},{"p":47.8,"e":-0.26,"s":"Neg."},{"p":48.1,"e":-0.34,"s":"Neg."},{"p":48.4,"e":-0.30,"s":"Neg."},{"p":48.7,"e":-0.21,"s":"Neg."},{"p":49.0,"e":-0.28,"s":"Neg."},{"p":49.3,"e":-0.17,"s":"Neg."},{"p":49.6,"e":-0.10,"s":"Neg."},{"p":49.9,"e":-0.14,"s":"Neg."},{"p":50.2,"e":-0.07,"s":"Neg."},{"p":50.5,"e":-0.12,"s":"Neg."},{"p":50.8,"e":-0.09,"s":"Neg."},{"p":51.1,"e":-0.15,"s":"Neg."},{"p":51.4,"e":-0.30,"s":"Neg."},{"p":51.6,"e":-0.19,"s":"Neg."},{"p":51.9,"e":-0.26,"s":"Neg."},{"p":52.2,"e":-0.13,"s":"Neg."},{"p":52.5,"e":-0.18,"s":"Neg."},{"p":52.8,"e":-0.10,"s":"Neg."},{"p":53.1,"e":-0.06,"s":"Neg."},{"p":53.4,"e":-0.14,"s":"Neg."},{"p":53.7,"e":-0.03,"s":"Neg."},{"p":54.0,"e":-0.23,"s":"Neg."},{"p":54.3,"e":-0.04,"s":"Neg."},{"p":54.6,"e":-0.01,"s":"Neg."}
 ],
 "gridx":[{"g":-40},{"g":-20},{"g":0},{"g":20},{"g":40}],
 "gridy":[{"g":-0.6},{"g":-0.4},{"g":-0.2},{"g":0}],
 "solid":[{"a":-55,"b":54.7,"v":0.128},{"a":-55,"b":54.7,"v":-0.707}],
 "dashed":[{"a":-55,"b":54.7,"v":-0.278}],
 "arrow":[{"a":21.9,"top":0.1087,"bot":-0.672}],
 "box":[{"a":-23,"b":21,"top":-0.035,"bot":-0.174}],
 "lblE":[{"a":-21.3,"v":-0.127,"t":"E"}],
 "lblYX":[{"a":-17.5,"v":-0.139,"t":"YX"}],
 "lblVal":[{"a":-11.4,"v":-0.127,"t":"= 0.83 mm"}]
},
"layer":[
 {"data":{"name":"gridx"},"mark":{"type":"rule","color":"black","strokeWidth":1,"strokeDash":[1,2]},
  "encoding":{"x":{"field":"g","type":"quantitative","scale":{"domain":[-60,60],"nice":false,"zero":false},"axis":null}}},
 {"data":{"name":"gridy"},"mark":{"type":"rule","color":"black","strokeWidth":1,"strokeDash":[1,2]},
  "encoding":{"y":{"field":"g","type":"quantitative","scale":{"domain":[-0.8,0.2],"nice":false,"zero":false},"axis":null}}},
 {"data":{"name":"box"},"mark":{"type":"rect","fill":"white","stroke":null},
  "encoding":{"x":{"field":"a","type":"quantitative","scale":{"domain":[-60,60],"nice":false,"zero":false},"axis":null},"x2":{"field":"b"},"y":{"field":"top","type":"quantitative","scale":{"domain":[-0.8,0.2],"nice":false,"zero":false},"axis":null},"y2":{"field":"bot"}}},
 {"data":{"name":"curves"},"transform":[{"filter":"datum.s === 'Pos.'"}],"mark":{"type":"line","strokeWidth":2.2,"clip":true},
  "encoding":{
   "x":{"field":"p","type":"quantitative","scale":{"domain":[-60,60],"nice":false,"zero":false},
        "axis":{"title":"Position (mm)","values":[-60,-40,-20,0,20,40,60],"labelExpr":"'' + datum.value","labelPadding":25,"titlePadding":14}},
   "y":{"field":"e","type":"quantitative","scale":{"domain":[-0.8,0.2],"nice":false,"zero":false},
        "axis":{"title":"Error (μm)","values":[-0.8,-0.6,-0.4,-0.2,0,0.2],"labelExpr":"'' + round(datum.value*10)/10","labelPadding":20,"titlePadding":22}},
   "color":{"field":"s","type":"nominal","scale":{"domain":["Pos.","Neg."],"range":["#0000ff","#00ff00"]},"legend":{"title":null,"orient":"none","legendX":132,"legendY":700}}}},
 {"data":{"name":"curves"},"transform":[{"filter":"datum.s === 'Neg.'"}],"mark":{"type":"line","strokeWidth":2.2,"clip":true},
  "encoding":{
   "x":{"field":"p","type":"quantitative","scale":{"domain":[-60,60],"nice":false,"zero":false},"axis":null},
   "y":{"field":"e","type":"quantitative","scale":{"domain":[-0.8,0.2],"nice":false,"zero":false},"axis":null},
   "color":{"field":"s","type":"nominal","scale":{"domain":["Pos.","Neg."],"range":["#0000ff","#00ff00"]},"legend":{"title":null,"orient":"none","legendX":132,"legendY":700}}}},
 {"data":{"name":"solid"},"mark":{"type":"rule","color":"black","strokeWidth":2},
  "encoding":{
   "x":{"field":"a","type":"quantitative","scale":{"domain":[-60,60],"nice":false,"zero":false},
        "axis":{"orient":"top","title":null,"labels":false,"values":[-60,-40,-20,0,20,40,60]}},
   "x2":{"field":"b"},
   "y":{"field":"v","type":"quantitative","scale":{"domain":[-0.8,0.2],"nice":false,"zero":false},
        "axis":{"orient":"right","title":null,"labels":false,"values":[-0.8,-0.6,-0.4,-0.2,0,0.2]}}}},
 {"data":{"name":"dashed"},"mark":{"type":"rule","color":"black","strokeWidth":2,"strokeDash":[9,4]},
  "encoding":{
   "x":{"field":"a","type":"quantitative","scale":{"domain":[-60,60],"nice":false,"zero":false},"axis":null},
   "x2":{"field":"b"},
   "y":{"field":"v","type":"quantitative","scale":{"domain":[-0.8,0.2],"nice":false,"zero":false},"axis":null}}},
 {"data":{"name":"arrow"},"mark":{"type":"rule","color":"black","strokeWidth":4.5},
  "encoding":{
   "x":{"field":"a","type":"quantitative","scale":{"domain":[-60,60],"nice":false,"zero":false},"axis":null},
   "y":{"field":"top","type":"quantitative","scale":{"domain":[-0.8,0.2],"nice":false,"zero":false},"axis":null},
   "y2":{"field":"bot"}}},
 {"data":{"name":"arrow"},"mark":{"type":"point","shape":"M0,-1L1,1L-1,1Z","size":289,"filled":true,"color":"black","opacity":1},
  "encoding":{
   "x":{"field":"a","type":"quantitative","scale":{"domain":[-60,60],"nice":false,"zero":false},"axis":null},
   "y":{"field":"top","type":"quantitative","scale":{"domain":[-0.8,0.2],"nice":false,"zero":false},"axis":null}}},
 {"data":{"name":"arrow"},"mark":{"type":"point","shape":"M0,1L1,-1L-1,-1Z","size":289,"filled":true,"color":"black","opacity":1},
  "encoding":{
   "x":{"field":"a","type":"quantitative","scale":{"domain":[-60,60],"nice":false,"zero":false},"axis":null},
   "y":{"field":"bot","type":"quantitative","scale":{"domain":[-0.8,0.2],"nice":false,"zero":false},"axis":null}}},
 {"data":{"name":"lblE"},"mark":{"type":"text","font":"Liberation Sans","fontSize":35,"fontWeight":"bold","fontStyle":"italic","align":"left","baseline":"alphabetic","color":"black"},
  "encoding":{
   "x":{"field":"a","type":"quantitative","scale":{"domain":[-60,60],"nice":false,"zero":false},"axis":null},
   "y":{"field":"v","type":"quantitative","scale":{"domain":[-0.8,0.2],"nice":false,"zero":false},"axis":null},
   "text":{"field":"t"}}},
 {"data":{"name":"lblYX"},"mark":{"type":"text","font":"Liberation Sans","fontSize":25,"fontWeight":"bold","fontStyle":"italic","align":"left","baseline":"alphabetic","color":"black"},
  "encoding":{
   "x":{"field":"a","type":"quantitative","scale":{"domain":[-60,60],"nice":false,"zero":false},"axis":null},
   "y":{"field":"v","type":"quantitative","scale":{"domain":[-0.8,0.2],"nice":false,"zero":false},"axis":null},
   "text":{"field":"t"}}},
 {"data":{"name":"lblVal"},"mark":{"type":"text","font":"Liberation Sans","fontSize":36,"fontWeight":"bold","align":"left","baseline":"alphabetic","color":"black"},
  "encoding":{
   "x":{"field":"a","type":"quantitative","scale":{"domain":[-60,60],"nice":false,"zero":false},"axis":null},
   "y":{"field":"v","type":"quantitative","scale":{"domain":[-0.8,0.2],"nice":false,"zero":false},"axis":null},
   "text":{"field":"t"}}}
],
"resolve":{"axis":{"x":"independent","y":"independent"}}
}
